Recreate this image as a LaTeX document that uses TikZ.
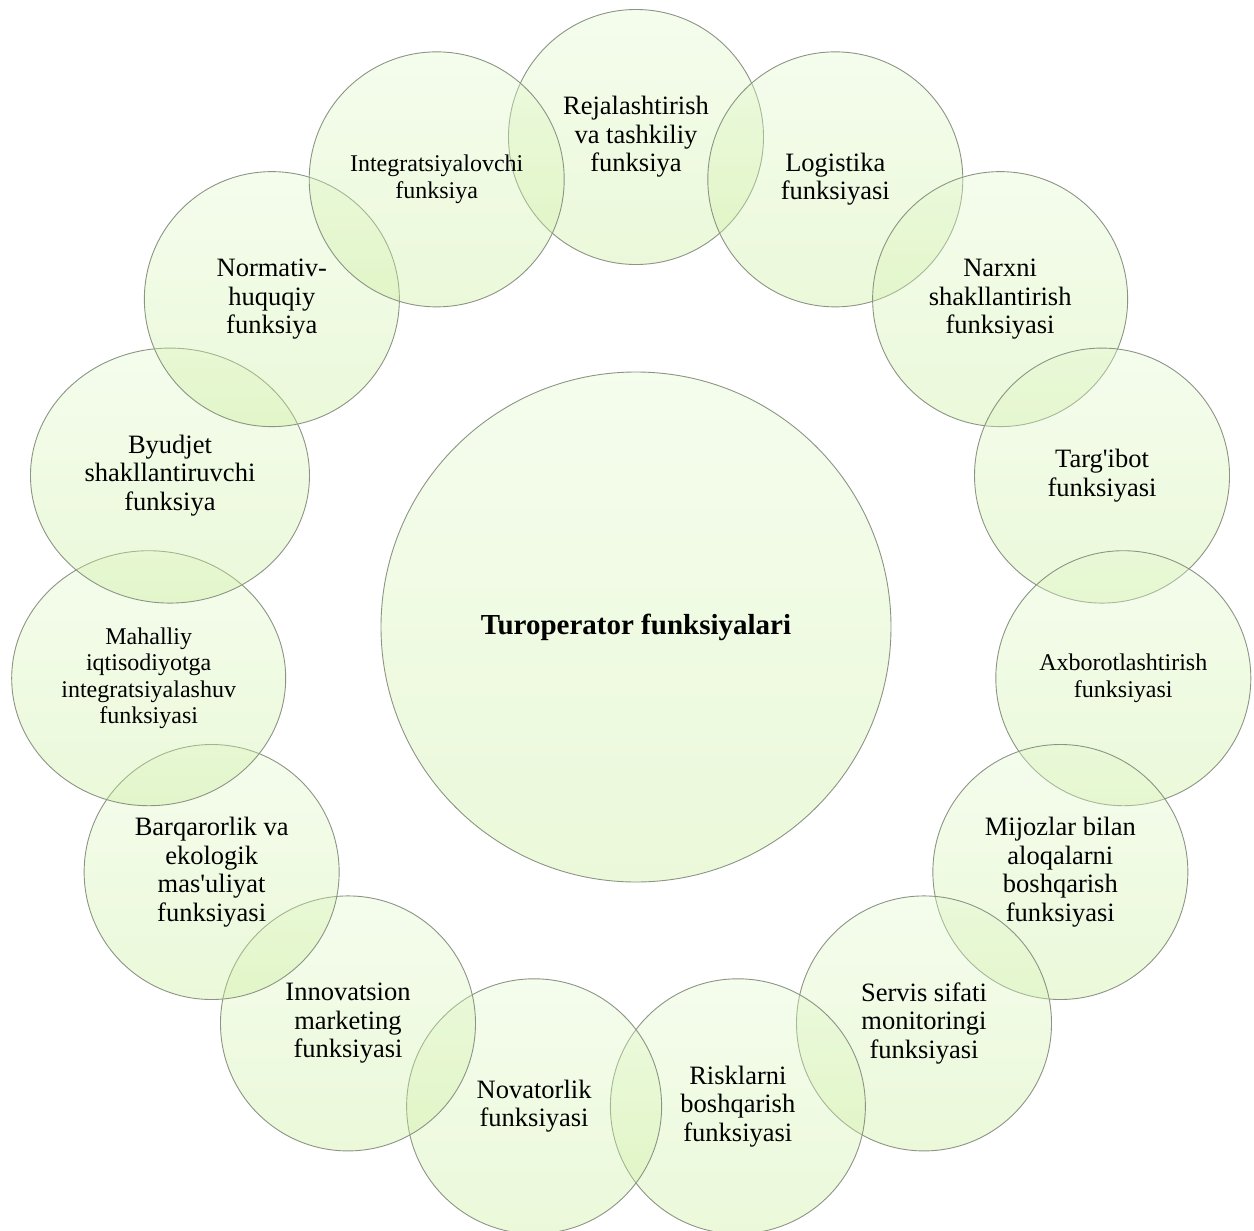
\documentclass[tikz,border=0pt]{standalone}
\usepackage{fontspec}
\setmainfont{Liberation Serif}
\usetikzlibrary{shapes.geometric}
\definecolor{ringtop}{RGB}{226,249,205}
\definecolor{ringbot}{RGB}{200,236,150}
\definecolor{ringline}{RGB}{140,148,132}
\tikzset{
  bubble/.style={circle, minimum size=255pt, inner sep=0pt, draw=ringline,
    line width=0.9pt, top color=ringtop, bottom color=ringbot,
    fill opacity=0.36, text opacity=1, align=center,
    font=\fontsize{26.5}{28.5}\selectfont},
  wide/.style={ellipse, minimum height=255pt, minimum width=#1},
  smalltext/.style={font=\fontsize{24}{26.5}\selectfont},
}
\begin{document}
\begin{tikzpicture}[x=1pt, y=-1pt]
  \useasboundingbox (0,0) rectangle (1254,1231);
  % central circle
  \node[bubble, minimum size=510pt, font=\bfseries\fontsize{29}{32}\selectfont]
    (hub) at (636,627) {Turoperator funksiyalari};
  % ring of fifteen functions, clockwise from the top
  \begin{scope}[shift={(636,627)}]
    \node[bubble] (f0)  at (-90:490)  {Rejalashtirish\\va tashkiliy\\funksiya};
    \node[bubble] (f1)  at (-66:490)  {Logistika\\funksiyasi};
    \node[bubble] (f2)  at (-42:490)  {Narxni\\shakllantirish\\funksiyasi};
    \node[bubble] (f3)  at (-18:490)  {Targ\textquotesingle ibot\\funksiyasi};
    \node[bubble, smalltext] (f4)  at (6:490) {Axborotlashtirish\\funksiyasi};
    \node[bubble] (f5)  at (30:490)   {Mijozlar bilan\\aloqalarni\\boshqarish\\funksiyasi};
    \node[bubble] (f6)  at (54:490)   {Servis sifati\\monitoringi\\funksiyasi};
    \node[bubble] (f7)  at (78:490)   {Risklarni\\boshqarish\\funksiyasi};
    \node[bubble] (f8)  at (102:490)  {Novatorlik\\funksiyasi};
    \node[bubble] (f9)  at (126:490)  {Innovatsion\\marketing\\funksiyasi};
    \node[bubble] (f10) at (150:490)  {Barqarorlik va\\ekologik\\mas\textquotesingle uliyat\\funksiyasi};
    \node[bubble, wide=274pt, smalltext] (f11) at (174:490)
      {Mahalliy\\iqtisodiyotga\\integratsiyalashuv\\funksiyasi};
    \node[bubble, wide=279pt] (f12) at (198:490) {Byudjet\\shakllantiruvchi\\funksiya};
    \node[bubble] (f13) at (222:490)  {Normativ-\\huquqiy\\funksiya};
    \node[bubble, smalltext] (f14) at (246:490) {Integratsiyalovchi\\funksiya};
  \end{scope}
\end{tikzpicture}
\end{document}
